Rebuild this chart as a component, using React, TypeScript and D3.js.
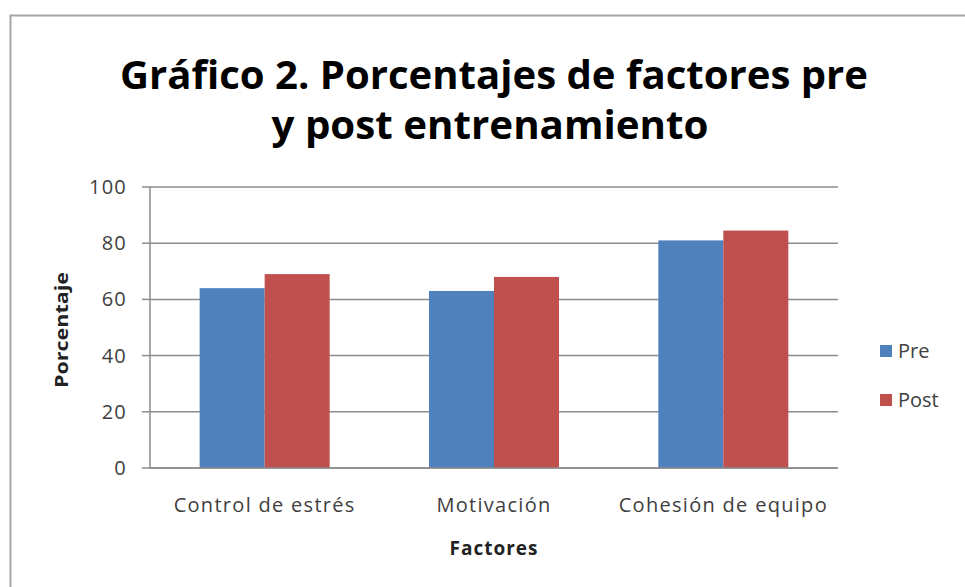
import React from "react";
import * as d3 from "d3";

const categories = ["Control de estrés", "Motivación", "Cohesión de equipo"];
const seriesNames = ["Pre", "Post"];
const preValues = [64, 63, 81];
const postValues = [69, 68, 84.5];
const yTicks = [0, 20, 40, 60, 80, 100];
const titleLines = ["Gráfico 2. Porcentajes de factores pre", "y post entrenamiento"];
const xTitle = "Factores";
const yTitle = "Porcentaje";
const colors = ["#4F81BD", "#C0504D"];

const W = 965;
const H = 587;
const plot = { left: 150, right: 838, top: 187, bottom: 468 };
const font = "'Open Sans', 'Noto Sans', sans-serif";

export default function App() {
  const x = d3
    .scaleBand<string>()
    .domain(categories)
    .range([plot.left, plot.right])
    .paddingInner(0.433)
    .paddingOuter(0.2165);
  const xi = d3.scaleBand<string>().domain(seriesNames).range([0, x.bandwidth()]);
  const y = d3.scaleLinear().domain([0, 100]).range([plot.bottom, plot.top]);
  const series = [preValues, postValues];

  return (
    <svg
      width={W}
      height={H}
      style={{ position: "absolute", left: 0, top: 0, background: "#fff" }}
    >
      <rect x={0} y={0} width={W} height={H} fill="#fff" />
      <rect x={10.5} y={15.5} width={W} height={H} fill="#fff" stroke="#a6a6a6" strokeWidth={2} />
      {/* Title */}
      <text
        x={494}
        y={89}
        textAnchor="middle"
        fontFamily={font}
        fontWeight="bold"
        fontSize={40}
        fill="#000"
        textLength={748}
        lengthAdjust="spacingAndGlyphs"
      >
        {titleLines[0]}
      </text>
      <text
        x={490}
        y={139}
        textAnchor="middle"
        fontFamily={font}
        fontWeight="bold"
        fontSize={40}
        fill="#000"
        textLength={437}
        lengthAdjust="spacingAndGlyphs"
      >
        {titleLines[1]}
      </text>

      {/* gridlines */}
      {yTicks.map((t) => (
        <line
          key={"g" + t}
          x1={plot.left}
          x2={plot.right}
          y1={y(t)}
          y2={y(t)}
          stroke="#8c8c8c"
          strokeWidth={1.5}
        />
      ))}

      {/* bars */}
      {series.map((vals, si) =>
        vals.map((v, ci) => (
          <rect
            key={`b${si}-${ci}`}
            x={(x(categories[ci]) ?? 0) + (xi(seriesNames[si]) ?? 0)}
            y={y(v)}
            width={xi.bandwidth()}
            height={y(0) - y(v)}
            fill={colors[si]}
          />
        ))
      )}

      {/* y axis */}
      <line x1={plot.left} x2={plot.left} y1={plot.top} y2={plot.bottom} stroke="#8c8c8c" strokeWidth={1.5} />
      {yTicks.map((t) => (
        <g key={"t" + t}>
          <line x1={plot.left - 8} x2={plot.left} y1={y(t)} y2={y(t)} stroke="#8c8c8c" strokeWidth={1.5} />
          <text
            x={plot.left - 23}
            y={y(t)}
            dy="0.35em"
            textAnchor="end"
            fontFamily={font}
            fontSize={20}
            letterSpacing={1.2}
            fill="#404040"
          >
            {t}
          </text>
        </g>
      ))}
      <line x1={plot.left} x2={plot.right} y1={plot.bottom} y2={plot.bottom} stroke="#8c8c8c" strokeWidth={1.5} />

      {/* x labels */}
      {categories.map((c) => (
        <text
          key={c}
          x={(x(c) ?? 0) + x.bandwidth() / 2}
          y={505}
          dy="0.35em"
          textAnchor="middle"
          fontFamily={font}
          fontSize={20}
          letterSpacing={1.3}
          fill="#404040"
        >
          {c}
        </text>
      ))}
      <text
        x={(plot.left + plot.right) / 2}
        y={548}
        dy="0.35em"
        textAnchor="middle"
        fontFamily={font}
        fontWeight="bold"
        fontSize={19}
        letterSpacing={1}
        fill="#222"
      >
        {xTitle}
      </text>
      <text
        transform={`translate(62, 330) rotate(-90)`}
        textAnchor="middle"
        dy="0.35em"
        fontFamily={font}
        fontWeight="bold"
        fontSize={17}
        fill="#222"
        textLength={116}
        lengthAdjust="spacingAndGlyphs"
      >
        {yTitle}
      </text>

      {/* legend */}
      {seriesNames.map((s, i) => (
        <g key={s} transform={`translate(880, ${351 + i * 49})`}>
          <rect x={0} y={-6} width={12} height={12} fill={colors[i]} />
          <text x={18} y={0} dy="0.35em" fontFamily={font} fontSize={20} fill="#404040">
            {s}
          </text>
        </g>
      ))}
    </svg>
  );
}
